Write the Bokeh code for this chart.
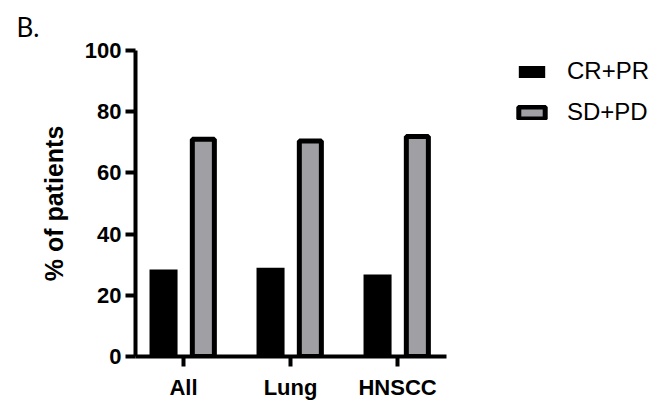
from bokeh.plotting import figure
from bokeh.models import Range1d, FixedTicker, Legend, LegendItem, ColumnDataSource
from bokeh.embed import file_html
from bokeh.resources import INLINE

categories = ["All", "Lung", "HNSCC"]
cr_pr = [28.4, 29.0, 26.8]
sd_pd = [71.0, 70.4, 71.9]
y_ticks = [0, 20, 40, 60, 80, 100]
series_names = ["CR+PR", "SD+PD"]

xpos = [i + 1 for i in range(len(categories))]
src = ColumnDataSource(dict(
    x1=[x - 0.187 for x in xpos],
    x2=[x + 0.185 for x in xpos],
    cr=cr_pr, sd=sd_pd,
))

p = figure(width=662, height=402, output_backend="svg", toolbar_location=None,
           x_range=Range1d(0.551, 5.476), y_range=Range1d(0, 100),
           min_border_left=135, min_border_right=0, min_border_top=50, min_border_bottom=44,
           title="B.")
p.outline_line_color = None
p.xgrid.visible = False
p.ygrid.visible = False

p.title.text_font = "Lato"
p.title.text_font_style = "normal"
p.title.text_font_size = "26px"
p.title.text_color = "black"
p.title.align = "left"
p.title.offset = -119
p.title.standoff = 15

r1 = p.vbar(x="x1", top="cr", width=0.262, source=src, fill_color="black", line_color=None)
r2 = p.vbar(x="x2", top="sd", width=0.206, source=src, fill_color="#a09fa4",
            line_color="black", line_width=5)

for ax in (p.xaxis[0], p.yaxis[0]):
    ax.axis_line_width = 4
    ax.major_tick_line_width = 4
    ax.major_tick_out = 10
    ax.major_tick_in = 0
    ax.minor_tick_out = 0
    ax.minor_tick_in = 0
    ax.major_label_text_font = "Liberation Sans"
    ax.major_label_text_font_style = "bold"
    ax.major_label_text_font_size = "22px"
    ax.major_label_text_color = "black"

p.yaxis[0].ticker = FixedTicker(ticks=y_ticks)
p.yaxis[0].major_label_standoff = 4
p.yaxis[0].axis_label = "% of patients"
p.yaxis[0].axis_label_text_font = "Liberation Sans"
p.yaxis[0].axis_label_text_font_style = "bold"
p.yaxis[0].axis_label_text_font_size = "25px"
p.yaxis[0].axis_label_text_color = "black"
p.yaxis[0].axis_label_standoff = 14

p.xaxis[0].ticker = FixedTicker(ticks=xpos)
p.xaxis[0].major_label_overrides = {x: c for x, c in zip(xpos, categories)}
p.xaxis[0].major_label_standoff = 8
p.xaxis[0].bounds = (0.551, 3.458)

legend = Legend(items=[LegendItem(label=series_names[0], renderers=[r1]),
                       LegendItem(label=series_names[1], renderers=[r2])],
                location=(380, 230), glyph_width=33, glyph_height=15,
                label_text_font="Liberation Sans", label_text_font_size="24px",
                label_text_color="black",
                label_standoff=19, spacing=13, margin=0, padding=0,
                border_line_color=None, background_fill_alpha=0)
p.add_layout(legend, "center")

open("out.html", "w").write(file_html(p, INLINE))
